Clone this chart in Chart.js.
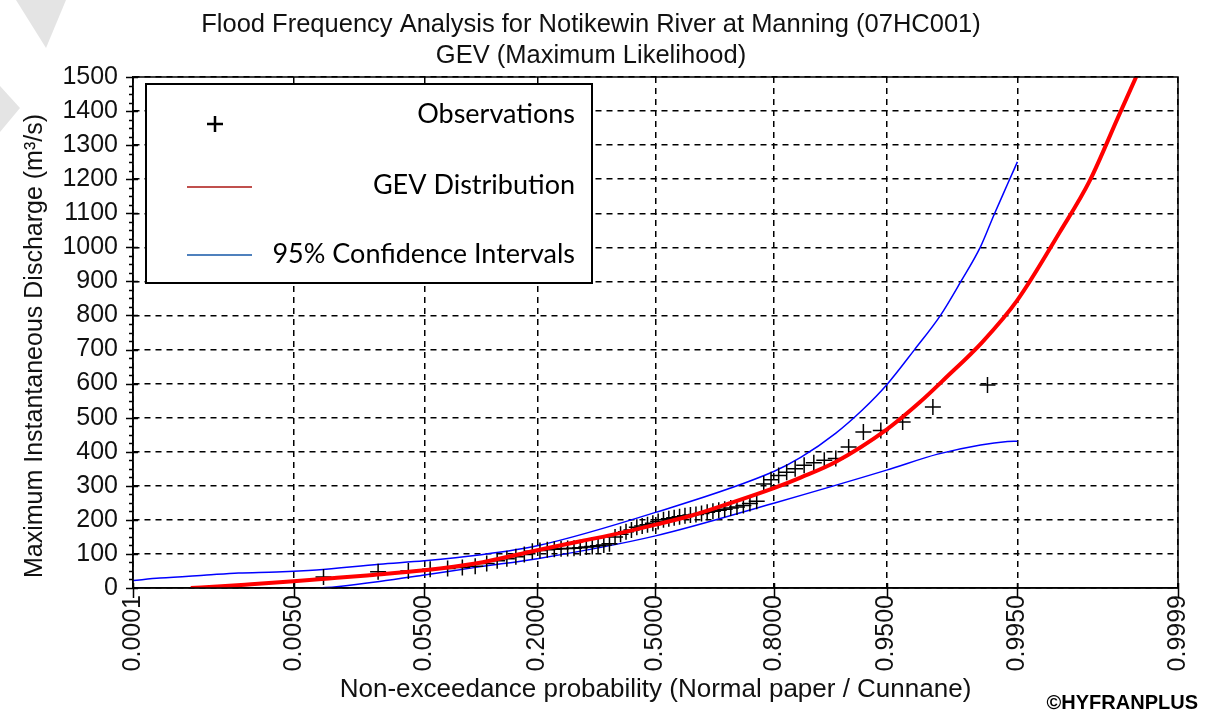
<!DOCTYPE html>
<html>
<head>
<meta charset="utf-8">
<script src="https://cdn.jsdelivr.net/npm/chart.js@4.4.1/dist/chart.umd.min.js"></script>
<style>
  html, body { margin: 0; padding: 0; background: #fff; }
</style>
</head>
<body>
<canvas id="chart" width="1215" height="715"></canvas>
<script>
// x axis: probability ticks (normal paper)
const tickProbs = [0.0001, 0.005, 0.05, 0.2, 0.5, 0.8, 0.95, 0.995, 0.9999];
const tickLabels = ['0.0001', '0.0050', '0.0500', '0.2000', '0.5000', '0.8000', '0.9500', '0.9950', '0.9999'];

// observed annual maxima (m3/s), sorted ascending
const obsDischarge = [
  32, 48, 50, 55, 57, 60, 64, 72, 80, 86,
  92, 98, 108, 110, 112, 114, 115, 116, 117, 118,
  120, 122, 124, 126, 130, 150, 158, 165, 170, 178,
  182, 186, 190, 195, 200, 203, 206, 209, 212, 214,
  216, 219, 222, 225, 228, 231, 235, 238, 242, 248,
  255, 305, 318, 330, 340, 350, 360, 368, 375, 380,
  414, 458, 462, 487, 531, 596
];

// fitted GEV quantiles
const gevProb = [0.00047, 0.001, 0.002, 0.005, 0.01, 0.02, 0.05, 0.1, 0.2, 0.3, 0.4, 0.5, 0.6, 0.7, 0.8, 0.85, 0.9, 0.95, 0.97, 0.98, 0.99, 0.995, 0.998, 0.999, 0.9995, 0.9997];
const gevQ = [0, 5, 11, 20, 28, 37, 52, 72, 111, 138, 161, 186, 212, 248, 293, 325, 370, 465, 545, 612, 722, 845, 1045, 1195, 1380, 1510];

// 95% confidence bounds
const upperProb = [0.0001, 0.00021, 0.0007, 0.0015, 0.0035, 0.0079, 0.0247, 0.05, 0.1046, 0.2, 0.5, 0.8, 0.85, 0.9, 0.93, 0.95, 0.9673, 0.9788, 0.9851, 0.98966, 0.992, 0.99388, 0.995];
const upperQ = [22, 29, 38, 44, 47, 53, 70, 80, 97, 124, 222, 342, 384, 454, 524, 596, 699, 801, 899, 1002, 1095, 1185, 1251];
const lowerProb = [0.0085, 0.0116, 0.0247, 0.05, 0.1046, 0.2, 0.5, 0.8, 0.95, 0.9777, 0.98966, 0.99388, 0.995];
const lowerQ = [0, 4, 19, 38, 62, 86, 153, 249, 346, 393, 420, 430, 431];

// inverse normal CDF (Acklam)
function probit(p) {
  const a = [-39.69683028665376, 220.9460984245205, -275.9285104469687, 138.3577518672690, -30.66479806614716, 2.506628277459239];
  const b = [-54.47609879822406, 161.5858368580409, -155.6989798598866, 66.80131188771972, -13.28068155288572];
  const c = [-0.007784894002430293, -0.3223964580411365, -2.400758277161838, -2.549671010115507, 4.374664141464968, 2.938163982698783];
  const d = [0.007784695709041462, 0.3224671290700398, 2.445134137142996, 3.754408661907416];
  const tail = q => (((((c[0]*q + c[1])*q + c[2])*q + c[3])*q + c[4])*q + c[5]) / ((((d[0]*q + d[1])*q + d[2])*q + d[3])*q + 1);
  if (p < 0.02425) return tail(Math.sqrt(-2 * Math.log(p)));
  if (p > 1 - 0.02425) return -tail(Math.sqrt(-2 * Math.log(1 - p)));
  const q = p - 0.5, r = q * q;
  return (((((a[0]*r + a[1])*r + a[2])*r + a[3])*r + a[4])*r + a[5])*q / (((((b[0]*r + b[1])*r + b[2])*r + b[3])*r + b[4])*r + 1);
}

// Cunnane plotting positions
const n = obsDischarge.length;
const obsPoints = obsDischarge.map((q, i) => ({ x: probit((i + 1 - 0.4) / (n + 0.2)), y: q }));
const toPoints = (ps, qs) => ps.map((p, i) => ({ x: probit(p), y: qs[i] }));

const font = '"Liberation Sans", Arial, sans-serif';

const extras = {
  id: 'extras',
  beforeDraw(chart) {
    const ctx = chart.ctx;
    ctx.save();
    ctx.fillStyle = '#e4e4e4';
    ctx.beginPath();
    ctx.moveTo(16, 0); ctx.lineTo(66, 0); ctx.lineTo(46, 48); ctx.closePath();
    ctx.fill();
    ctx.beginPath();
    ctx.moveTo(0, 86); ctx.lineTo(20, 108); ctx.lineTo(0, 132); ctx.closePath();
    ctx.fill();
    ctx.restore();
  },
  afterDraw(chart) {
    const ctx = chart.ctx;
    const a = chart.chartArea;
    const x = chart.scales.x, y = chart.scales.y;
    ctx.save();
    ctx.strokeStyle = '#000';
    ctx.lineWidth = 1.5;
    ctx.strokeRect(a.left, a.top, a.right - a.left, a.bottom - a.top);

    // axis tick marks crossing the frame
    ctx.beginPath();
    for (let v = 0; v <= 1500; v += 25) {
      const py = Math.round(y.getPixelForValue(v)) + 0.5;
      if (v % 100 === 0) { ctx.moveTo(a.left - 7, py); ctx.lineTo(a.left + 5, py); }
      else { ctx.moveTo(a.left - 4, py); ctx.lineTo(a.left, py); }
    }
    tickProbs.forEach(p => {
      const px = Math.round(x.getPixelForValue(probit(p))) + 0.5;
      ctx.moveTo(px, a.bottom - 5); ctx.lineTo(px, a.bottom + 10);
    });
    ctx.stroke();

    // y axis title
    ctx.save();
    ctx.translate(35, 346);
    ctx.rotate(-Math.PI / 2);
    ctx.fillStyle = '#111';
    ctx.font = '25px ' + font;
    ctx.textAlign = 'center';
    ctx.textBaseline = 'middle';
    ctx.fillText('Maximum Instantaneous Discharge (m³/s)', 0, 0);
    ctx.restore();

    // legend box
    ctx.fillStyle = '#fff';
    ctx.fillRect(146, 84, 446, 199);
    ctx.lineWidth = 2;
    ctx.strokeRect(146, 84, 446, 199);
    ctx.lineWidth = 2.5;
    ctx.beginPath();
    ctx.moveTo(207, 124); ctx.lineTo(223, 124);
    ctx.moveTo(215, 116); ctx.lineTo(215, 132);
    ctx.stroke();
    ctx.lineWidth = 2;
    ctx.strokeStyle = '#c0504d';
    ctx.beginPath(); ctx.moveTo(187, 187); ctx.lineTo(252, 187); ctx.stroke();
    ctx.strokeStyle = '#4f81bd';
    ctx.beginPath(); ctx.moveTo(187, 255); ctx.lineTo(252, 255); ctx.stroke();
    ctx.fillStyle = '#000';
    ctx.font = '27px Lato';
    ctx.textAlign = 'right';
    ctx.textBaseline = 'middle';
    ctx.fillText('Observations', 575, 114);
    ctx.fillText('GEV Distribution', 575, 185);
    ctx.fillText('95% Confidence Intervals', 575, 254);

    ctx.font = 'bold 20px ' + font;
    ctx.fillText('©HYFRANPLUS', 1198, 703);
    ctx.restore();
  }
};

Chart.defaults.color = '#111';
Chart.defaults.font.family = font;

new Chart(document.getElementById('chart'), {
  type: 'scatter',
  data: {
    datasets: [
      {
        label: 'GEV Distribution',
        data: toPoints(gevProb, gevQ),
        showLine: true,
        borderColor: '#ff0000',
        borderWidth: 4,
        pointRadius: 0,
        cubicInterpolationMode: 'monotone',
        order: 0
      },
      {
        label: 'Observations',
        data: obsPoints,
        pointStyle: 'cross',
        pointRadius: 8,
        pointBorderWidth: 1.5,
        borderColor: '#000',
        backgroundColor: '#000',
        order: 1
      },
      {
        label: 'Upper',
        data: toPoints(upperProb, upperQ),
        showLine: true,
        borderColor: '#0000ff',
        borderWidth: 1.5,
        pointRadius: 0,
        cubicInterpolationMode: 'monotone',
        order: 2
      },
      {
        label: 'Lower',
        data: toPoints(lowerProb, lowerQ),
        showLine: true,
        borderColor: '#0000ff',
        borderWidth: 1.5,
        pointRadius: 0,
        cubicInterpolationMode: 'monotone',
        order: 2
      }
    ]
  },
  options: {
    responsive: false,
    animation: false,
    layout: { padding: { top: 0, right: 33, bottom: 0, left: 0 } },
    plugins: {
      legend: { display: false },
      tooltip: { enabled: false },
      title: {
        display: true,
        text: ['Flood Frequency Analysis for Notikewin River at Manning (07HC001)', 'GEV (Maximum Likelihood)'],
        color: '#111',
        font: { size: 25.5, weight: 'normal', lineHeight: 1.2 },
        padding: { top: 10, bottom: 5.8 }
      }
    },
    scales: {
      x: {
        type: 'linear',
        min: probit(0.0001),
        max: probit(0.9999),
        afterBuildTicks: s => { s.ticks = tickProbs.map(p => ({ value: probit(p) })); },
        afterFit: s => { s.height = 127; },
        ticks: {
          autoSkip: false,
          minRotation: 90,
          maxRotation: 90,
          padding: 7,
          font: { size: 25 },
          callback: (v, i) => tickLabels[i]
        },
        grid: { color: '#000', lineWidth: 1.5, drawTicks: false },
        border: { display: true, color: '#000', width: 1.5, dash: [6, 5] },
        title: {
          display: true,
          text: 'Non-exceedance probability (Normal paper / Cunnane)',
          font: { size: 26 },
          padding: { top: 0, bottom: 10 }
        }
      },
      y: {
        min: 0,
        max: 1500,
        afterFit: s => { s.width = 133; },
        ticks: {
          stepSize: 100,
          autoSkip: false,
          padding: 15,
          font: { size: 25 },
          callback: v => String(v)
        },
        grid: { color: '#000', lineWidth: 1.5, drawTicks: false },
        border: { display: true, color: '#000', width: 1.5, dash: [6, 5] }
      }
    }
  },
  plugins: [extras]
});
</script>
</body>
</html>
